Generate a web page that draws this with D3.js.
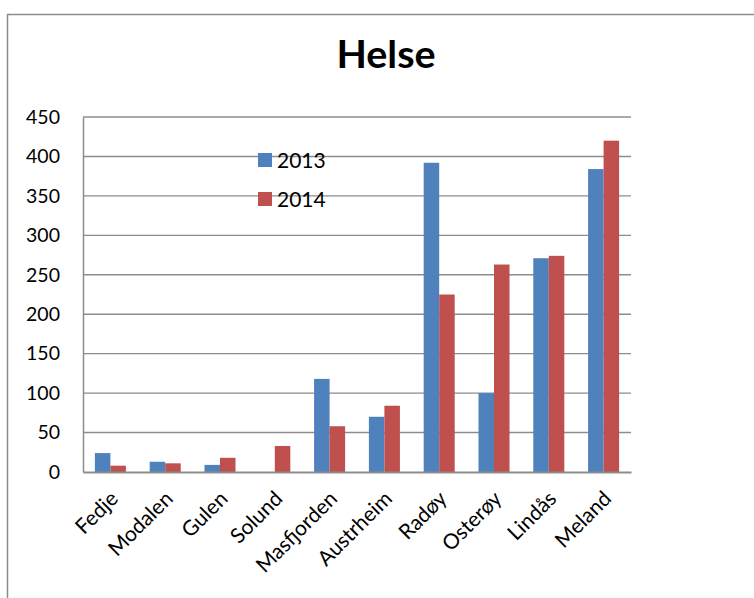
<!DOCTYPE html>
<html>
<head>
<meta charset="utf-8">
<script src="https://cdn.jsdelivr.net/npm/d3@7"></script>
<style>
  html, body { margin: 0; padding: 0; background: #fff; }
  svg { display: block; font-family: Lato, "Open Sans", sans-serif; }
</style>
</head>
<body>
<svg id="chart" width="754" height="598"></svg>
<script>
// Municipalities and yearly counts for "Helse"
const kommuner = ["Fedje", "Modalen", "Gulen", "Solund", "Masfjorden", "Austrheim", "Radøy", "Osterøy", "Lindås", "Meland"];
const verdier2013 = [24, 13, 9, 0, 118, 70, 392, 100, 271, 384];
const verdier2014 = [8, 11, 18, 33, 58, 84, 225, 263, 274, 420];
const serier = ["2013", "2014"];
const yTicks = [0, 50, 100, 150, 200, 250, 300, 350, 400, 450];
const farger = ["#4f81bd", "#c0504d"];

const svg = d3.select("#chart");
const plot = { left: 83, right: 631, top: 117, bottom: 472 };

// Frame lines (top and left edges)
svg.append("path")
  .attr("d", "M7.5,598 V14.5 H754")
  .attr("fill", "none").attr("stroke", "#8c8c8c").attr("stroke-width", 1.5);

// Title
svg.append("text")
  .attr("transform", "translate(386,68) scale(1.04,1)")
  .attr("text-anchor", "middle")
  .attr("font-size", 38).attr("font-weight", "bold")
  .attr("fill", "#000")
  .text("Helse");

const x = d3.scaleBand().domain(kommuner).range([plot.left, plot.right]).paddingInner(0.434).paddingOuter(0.217);
const xs = d3.scaleBand().domain(serier).range([0, x.bandwidth()]);
const y = d3.scaleLinear().domain([0, 450]).range([plot.bottom, plot.top]);

// Horizontal gridlines
svg.append("g")
  .selectAll("line").data(yTicks.filter(d => d > 0)).join("line")
  .attr("x1", plot.left).attr("x2", plot.right)
  .attr("y1", d => y(d)).attr("y2", d => y(d))
  .attr("stroke", "#8c8c8c").attr("stroke-width", 1.4);

// Y axis
const yAxis = svg.append("g")
  .attr("transform", `translate(${plot.left},0)`)
  .call(d3.axisLeft(y).tickValues(yTicks).tickSize(0).tickPadding(23));
yAxis.select(".domain").attr("stroke", "#8c8c8c").attr("stroke-width", 1.5);
yAxis.selectAll("text").attr("font-size", 19.5).attr("fill", "#000").attr("font-family", "Lato, sans-serif");

// Bars
const data = kommuner.map((k, i) => ({ k, vals: [verdier2013[i], verdier2014[i]] }));
const groups = svg.append("g").selectAll("g").data(data).join("g")
  .attr("transform", d => `translate(${x(d.k)},0)`);
groups.selectAll("rect")
  .data(d => d.vals.map((v, j) => ({ serie: serier[j], v, j })))
  .join("rect")
  .attr("x", d => xs(d.serie))
  .attr("width", xs.bandwidth())
  .attr("y", d => y(d.v))
  .attr("height", d => y(0) - y(d.v))
  .attr("fill", d => farger[d.j]);

// X axis with slanted category labels
const xAxis = svg.append("g")
  .attr("transform", `translate(0,${plot.bottom})`)
  .call(d3.axisBottom(x).tickSize(0).tickPadding(0));
xAxis.select(".domain").attr("stroke", "#8c8c8c").attr("stroke-width", 2);
xAxis.selectAll("text")
  .attr("font-size", 21).attr("fill", "#000").attr("font-family", "Lato, sans-serif")
  .attr("text-anchor", "end")
  .attr("y", 0).attr("dy", 0)
  .attr("transform", "translate(9,28) rotate(-45)");

// Legend
const legend = svg.append("g").selectAll("g").data(serier).join("g")
  .attr("transform", (d, i) => `translate(258,${153 + i * 39})`);
legend.append("rect").attr("width", 14).attr("height", 14).attr("fill", (d, i) => farger[i]);
legend.append("text").attr("x", 19).attr("y", 15)
  .attr("font-size", 21).attr("fill", "#000").text(d => d);
</script>
</body>
</html>
